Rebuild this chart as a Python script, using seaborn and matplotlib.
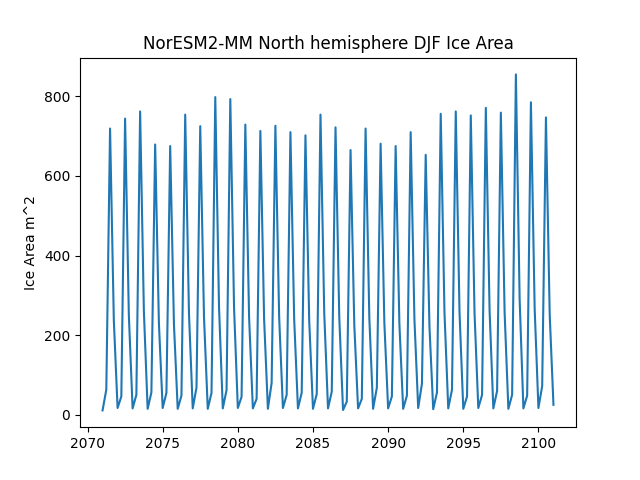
import numpy as np
import pandas as pd
import matplotlib
matplotlib.use("Agg")
import matplotlib.pyplot as plt
import seaborn as sns

years = list(range(2071, 2101))
jan_low = [11, 17, 16, 15, 17, 15, 16, 15, 16, 17, 16, 15, 17, 16, 15, 16, 12, 16, 15, 16, 15, 17, 14, 16, 15, 17, 16, 15, 16, 17]
apr_val = [63, 46, 50, 56, 55, 48, 68, 55, 62, 45, 40, 80, 50, 55, 52, 58, 33, 40, 68, 46, 48, 78, 56, 63, 46, 50, 60, 50, 48, 72]
jul_peak = [719, 744, 762, 679, 675, 754, 725, 798, 793, 729, 713, 726, 710, 702, 754, 722, 665, 719, 681, 675, 710, 653, 756, 762, 752, 771, 759, 855, 785, 747]
oct_val = [238, 250, 260, 230, 228, 255, 245, 270, 268, 245, 240, 246, 240, 236, 255, 245, 225, 243, 230, 228, 240, 222, 256, 258, 254, 262, 257, 290, 266, 252]
final_time = 2101.0
final_val = 25

times = []
values = []
for i, yr in enumerate(years):
    for q, v in enumerate([jan_low[i], apr_val[i], jul_peak[i], oct_val[i]]):
        times.append(yr + q * 0.25)
        values.append(v)
times.append(final_time)
values.append(final_val)

df = pd.DataFrame({"time": times, "area": values})

fig, ax = plt.subplots(figsize=(6.4, 4.8), dpi=100)
sns.lineplot(data=df, x="time", y="area", ax=ax, color="#1f77b4", linewidth=1.5)
ax.set_title("NorESM2-MM North hemisphere DJF Ice Area")
ax.set_ylabel("Ice Area m^2")
ax.set_xlabel("")
fig.savefig("out.png", dpi=100)
